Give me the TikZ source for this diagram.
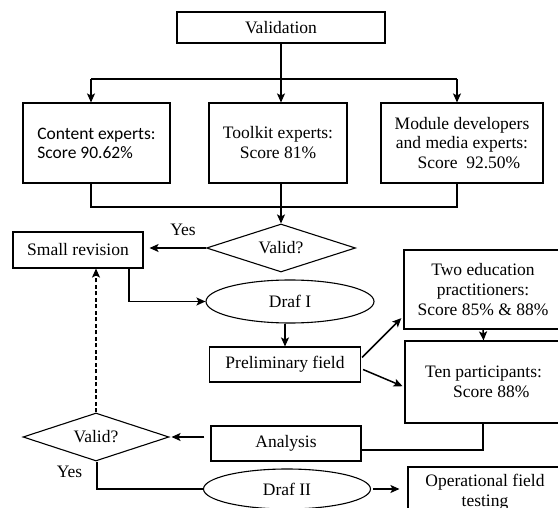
\documentclass[tikz,border=0pt]{standalone}
\usepackage{fontspec}
\setmainfont{Liberation Serif}
\newfontfamily\calfont{Carlito}
\usetikzlibrary{arrows.meta,shapes.geometric,calc}
\begin{document}
\begin{tikzpicture}[x=1pt,y=-1pt,
  every node/.style={font=\fontsize{17.5}{20}\selectfont, inner sep=0pt},
  box/.style={draw, line width=1.1pt, rectangle, align=center},
  dia/.style={draw, line width=1.1pt, diamond, aspect=3},
  ell/.style={draw, line width=1.1pt, ellipse},
  ln/.style={line width=1.5pt},
  arr/.style={line width=1.5pt, -{Stealth[length=9pt,width=8pt,inset=2pt]}}]
\useasboundingbox (0,0) rectangle (558,508);
\clip (0,0) rectangle (558,508);
\fill[white] (0,0) rectangle (558,508);

\node[box, minimum width=208pt, minimum height=31pt] (val) at (281,27.5) {Validation};
\node[box, minimum width=147pt, minimum height=80pt, align=left, font=\calfont\fontsize{17.5}{19}\selectfont] (ce) at (96.5,143) {Content experts:\\Score 90.62\%};
\node[box, minimum width=138pt, minimum height=80pt] (tk) at (278,143) {Toolkit experts:\\Score 81\%};
\node[box, minimum width=162pt, minimum height=80pt, font=\fontsize{17.5}{19.5}\selectfont] (md) at (462,143) {Module developers\\and media experts:\\\hspace*{14pt}Score\ \ 92.50\%};
\node[box, minimum width=130pt, minimum height=36pt] (sr) at (78,250) {Small revision};
\node[dia, minimum width=149pt, minimum height=48pt] (v1) at (281,248) {Valid?};
\node[ell, minimum width=168pt, minimum height=43pt] (d1) at (290,301.5) {Draf I};
\node[box, minimum width=151pt, minimum height=35pt] (pf) at (285,364.5) {Preliminary field};
\node[box, minimum width=158pt, minimum height=79pt] (te) at (483,289.5) {Two education\\practitioners:\\Score 85\% \& 88\%};
\node[box, minimum width=157pt, minimum height=82pt, align=left] (tp) at (483.5,382) {Ten participants:\\\hspace*{28pt}Score 88\%};
\node[box, minimum width=150pt, minimum height=35pt] (an) at (286,443.5) {Analysis};
\node[dia, minimum width=146pt, minimum height=48pt] (v2) at (96,437) {Valid?};
\node[ell, minimum width=167pt, minimum height=40pt] (d2) at (287,489) {Draf II};
\node[box, minimum width=154pt, minimum height=50pt] (op) at (485,492) {Operational field\\testing};
\node (y1) at (183,230) {Yes};
\node (y2) at (69.5,472) {Yes};

% top bus
\coordinate (b1) at (91,79);
\coordinate (b2) at (281,79);
\coordinate (b3) at (457,79);
\draw[ln] (val.south) -- (b2);
\draw[ln] (b1) -- (b3);
\draw[arr] (b1) -- (b1 |- ce.north);
\draw[arr] (b2) -- (b2 |- tk.north);
\draw[arr] (b3) -- (b3 |- md.north);

% bottom bus
\coordinate (c1) at (91,207);
\coordinate (c2) at (281,207);
\coordinate (c3) at (457,207);
\draw[ln] (c1 |- ce.south) -- (c1) -- (c3) -- (c3 |- md.south);
\draw[ln] (c2 |- tk.south) -- (c2);
\draw[arr] (c2) -- (v1.north);

% valid 1 -> small revision
\draw[arr, shorten >=6pt] (v1.west) -- (v1.west -| sr.east);

% small revision -> Draf I
\coordinate (s1) at (129,301.5);
\draw[arr] (sr.south -| s1) -- (s1) -- (d1.west);

% Draf I -> preliminary
\draw[arr] (d1.south -| pf.north) -- (pf.north);

% preliminary -> two edu / ten participants
\draw[arr, shorten >=3pt] ($(pf.east)+(1,-7)$) -- ($(te.west)+(0,26.5)$);
\draw[arr, shorten >=2pt] ($(pf.east)+(2,5)$) -- ($(tp.west)+(0,5)$);
\draw[arr] (te.south) -- (tp.north);

% ten participants -> analysis
\coordinate (t1) at (483,450);
\draw[ln] (tp.south -| t1) -- (t1) -- (t1 -| an.east);

% analysis -> valid 2
\draw[arr, shorten <=6pt, shorten >=2pt] (an.west |- v2.east) -- (v2.east);

% valid 2 -> small revision (dashed)
\draw[arr, dash pattern=on 4pt off 2.5pt] (v2.north) -- (v2.north |- sr.south);

% valid 2 -> Draf II
\coordinate (q1) at (97,489);
\draw[ln] (v2.south -| q1) -- (q1) -- (d2.west);

% Draf II -> operational
\draw[arr, shorten <=2pt, shorten >=8pt] (d2.east) -- (d2.east -| op.west);
\end{tikzpicture}
\end{document}
